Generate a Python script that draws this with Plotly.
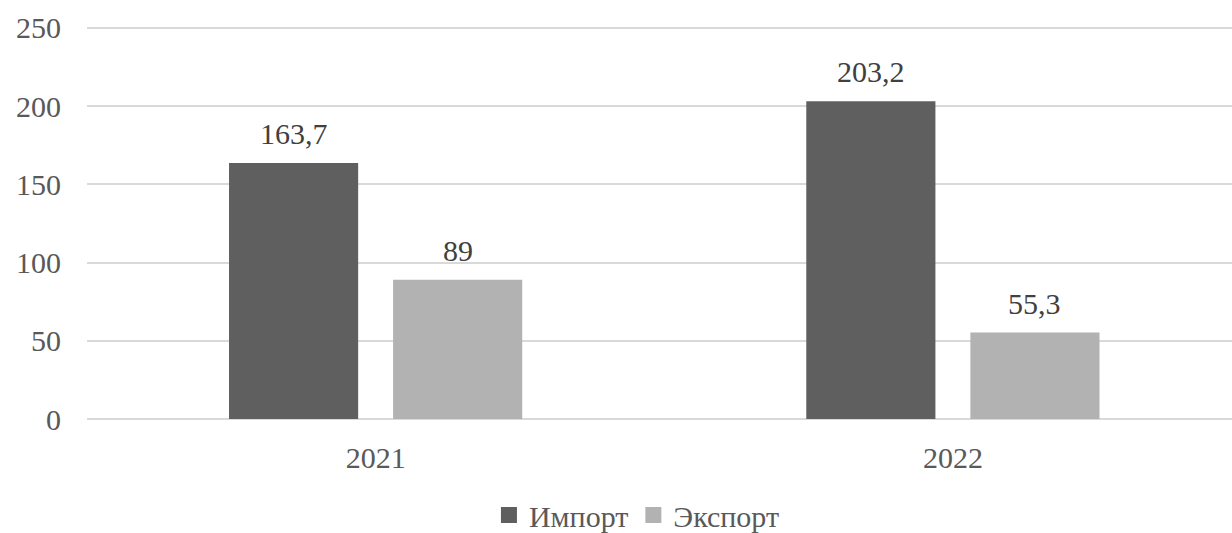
import plotly.graph_objects as go

years = ["2021", "2022"]
import_vals = [163.7, 203.2]
export_vals = [89, 55.3]
import_labels = ["163,7", "203,2"]
export_labels = ["89", "55,3"]
series_names = ["Импорт", "Экспорт"]
colors = ["#5f5f5f", "#b2b2b2"]

FONT = "Liberation Serif, Times New Roman, serif"
TXT = "#595959"
FS = 30

BARGAP = 0.4315
GROUPGAP = 0.213

fig = go.Figure()
for vals, name, col in [(import_vals, series_names[0], colors[0]),
                        (export_vals, series_names[1], colors[1])]:
    fig.add_trace(go.Bar(x=[0, 1], y=vals,
                         marker=dict(color=col, line=dict(width=0)),
                         name=name, showlegend=False, hoverinfo="y"))
for name, col in zip(series_names, colors):
    fig.add_trace(go.Scatter(x=[None], y=[None], mode="markers", name=name,
                             marker=dict(symbol="square", size=16, color=col)))

# data labels as annotations, centered over each bar
slot = (1 - BARGAP) / 2
for k, (vals, labels) in enumerate([(import_vals, import_labels), (export_vals, export_labels)]):
    for i, (v, t) in enumerate(zip(vals, labels)):
        xc = i - (1 - BARGAP) / 2 + slot * (k + 0.5)
        fig.add_annotation(x=xc, y=v, text=t, showarrow=False, yanchor="bottom",
                           yshift=11, font=dict(family=FONT, size=FS, color="#404040"))

fig.update_layout(
    width=1232, height=533,
    margin=dict(l=87, r=0, t=20, b=114),
    paper_bgcolor="white", plot_bgcolor="white",
    barmode="group", bargap=BARGAP, bargroupgap=GROUPGAP,
    font=dict(family=FONT, size=FS, color=TXT),
    legend=dict(orientation="h", x=0.517, xanchor="center", xref="container",
                y=1 - 515 / 533, yanchor="middle", yref="container",
                font=dict(family=FONT, size=FS, color=TXT),
                itemwidth=30, tracegroupgap=0),
    xaxis=dict(range=[-0.5, 1.4835], tickvals=[0, 1], ticktext=years,
               showgrid=False, zeroline=False, showline=False, ticks="",
               automargin=False,
               ticklabelstandoff=18, tickfont=dict(family=FONT, size=FS, color=TXT)),
    yaxis=dict(range=[0, 255.1], tickvals=[0, 50, 100, 150, 200, 250],
               showgrid=True, gridcolor="#d9d9d9", gridwidth=1.5,
               zeroline=True, zerolinecolor="#d9d9d9", zerolinewidth=1.5,
               showline=False, ticks="", ticklabelstandoff=25, automargin=False,
               tickfont=dict(family=FONT, size=FS, color=TXT)),
)

fig.write_html("out.html", config={"displayModeBar": False},
               post_script="document.body.style.margin='0';document.body.style.overflow='hidden';")
